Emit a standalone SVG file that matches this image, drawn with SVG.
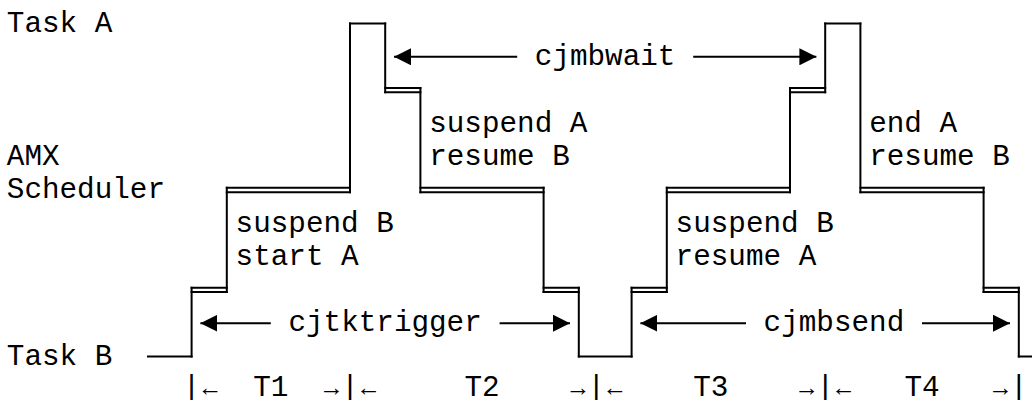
<svg xmlns="http://www.w3.org/2000/svg" width="1032" height="400" viewBox="0 0 1032 400">
<style>
  .t { font-family: "Liberation Mono", "Courier New", "DejaVu Sans Mono", monospace; font-size: 29.3px; fill: #000; }
  .m { text-anchor: middle; }
  .s { font-size: 25px; }
  .w { fill: none; stroke: #000; stroke-width: 2; stroke-linecap: square; }
  .a { fill: none; stroke: #000; stroke-width: 2; }
</style>
<defs>
  <marker id="ah" viewBox="0 0 17 17" refX="17" refY="8.5" markerWidth="17" markerHeight="17" markerUnits="userSpaceOnUse" orient="auto-start-reverse">
    <path d="M0,0 L17,8.5 L0,17 Z" fill="#000"/>
  </marker>
</defs>
<rect width="1032" height="400" fill="#fff"/>

<g id="waveform">
  <path class="w" d="M148,356.5 H191.6 M578.8,356.5 H631.6 M1018.8,356.5 H1032 M350,23.5 H385.2 M825.2,23.5 H860.4"/>
  <path class="w" d="M385.2,87.9 H420.4 M385.2,92.3 H420.4 M790,87.9 H825.2 M790,92.3 H825.2"/>
  <path class="w" d="M226.8,187.8 H350 M226.8,192.2 H350 M420.4,187.8 H543.6 M420.4,192.2 H543.6 M666.8,187.8 H790 M666.8,192.2 H790 M860.4,187.8 H983.6 M860.4,192.2 H983.6"/>
  <path class="w" d="M191.6,287.7 H226.8 M191.6,292.1 H226.8 M543.6,287.7 H578.8 M543.6,292.1 H578.8 M631.6,287.7 H666.8 M631.6,292.1 H666.8 M983.6,287.7 H1018.8 M983.6,292.1 H1018.8"/>
  <path class="w" d="M191.6,287.7 V356.5 M226.8,187.8 V292.1 M350,23.5 V192.2 M385.2,23.5 V92.3 M420.4,87.9 V192.2 M543.6,187.8 V292.1 M578.8,287.7 V356.5 M631.6,287.7 V356.5 M666.8,187.8 V292.1 M790,87.9 V192.2 M825.2,23.5 V92.3 M860.4,23.5 V192.2 M983.6,187.8 V292.1 M1018.8,287.7 V356.5"/>
</g>

<g id="connectors">
  <line class="a" x1="517.2" y1="56.8" x2="394" y2="56.8" marker-end="url(#ah)"/>
  <line class="a" x1="693.2" y1="56.8" x2="816.4" y2="56.8" marker-end="url(#ah)"/>
  <line class="a" x1="270.8" y1="323.2" x2="200.4" y2="323.2" marker-end="url(#ah)"/>
  <line class="a" x1="499.6" y1="323.2" x2="570" y2="323.2" marker-end="url(#ah)"/>
  <line class="a" x1="746" y1="323.2" x2="640.4" y2="323.2" marker-end="url(#ah)"/>
  <line class="a" x1="922" y1="323.2" x2="1010" y2="323.2" marker-end="url(#ah)"/>
</g>

<g id="lane-labels">
  <text class="t" x="6.8" y="32">Task A</text>
  <text class="t" x="6.8" y="165">AMX</text>
  <text class="t" x="6.8" y="198.3">Scheduler</text>
  <text class="t" x="6.8" y="364.8">Task B</text>
</g>

<g id="call-labels">
  <text class="t" x="534.8" y="65">cjmbwait</text>
  <text class="t" x="288.4" y="331.4">cjtktrigger</text>
  <text class="t" x="763.6" y="331.4">cjmbsend</text>
</g>

<g id="action-labels">
  <text class="t" x="429.2" y="131.7">suspend A</text>
  <text class="t" x="429.2" y="165">resume B</text>
  <text class="t" x="869.2" y="131.7">end A</text>
  <text class="t" x="869.2" y="165">resume B</text>
  <text class="t" x="235.6" y="231.6">suspend B</text>
  <text class="t" x="235.6" y="264.9">start A</text>
  <text class="t" x="675.6" y="231.6">suspend B</text>
  <text class="t" x="675.6" y="264.9">resume A</text>
</g>

<g id="intervals">
  <text class="t m" y="396"><tspan x="191.6">|</tspan><tspan x="350">|</tspan><tspan x="596.4">|</tspan><tspan x="825.2">|</tspan><tspan x="1018.8">|</tspan></text>
  <text class="t m s" y="396"><tspan x="210">←</tspan><tspan x="331.6">→</tspan><tspan x="368.4">←</tspan><tspan x="578">→</tspan><tspan x="614.8">←</tspan><tspan x="806.8">→</tspan><tspan x="843.6">←</tspan><tspan x="1000.4">→</tspan></text>
  <text class="t" y="396"><tspan x="253.2">T1</tspan><tspan x="464.4">T2</tspan><tspan x="693.2">T3</tspan><tspan x="904.4">T4</tspan></text>
</g>
</svg>
